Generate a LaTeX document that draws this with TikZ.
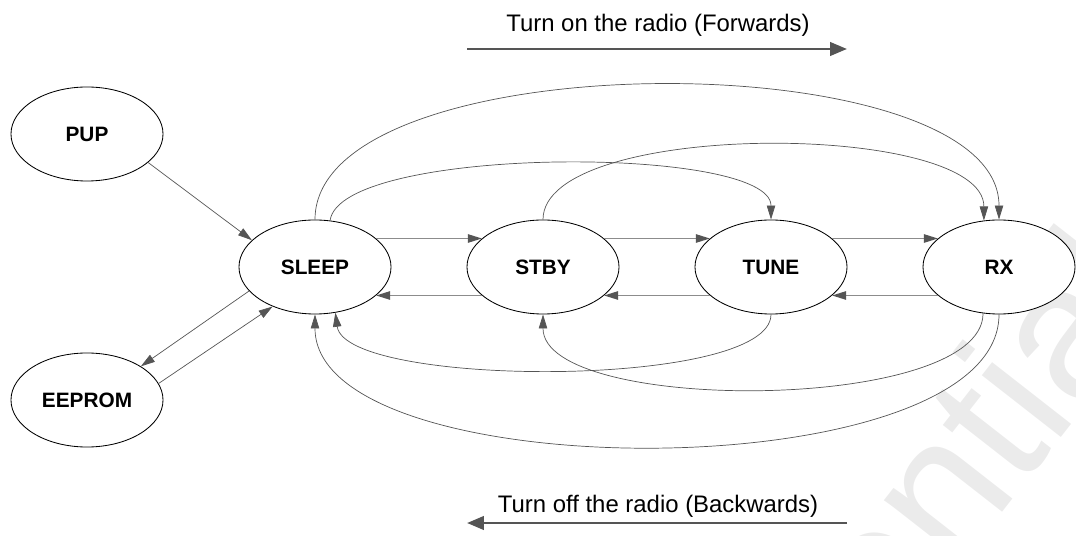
\documentclass[tikz,border=0pt]{standalone}
\usepackage{fontspec}
\setmainfont{Liberation Sans}
\usetikzlibrary{arrows.meta, shapes.geometric}
\definecolor{tipgray}{HTML}{555555}
\definecolor{flowgray}{HTML}{8C8C8C}
\definecolor{markgray}{HTML}{EBEBEB}

\begin{document}
\begin{tikzpicture}[x=0.025cm, y=-0.025cm,
    state/.style =
         {
             ellipse, draw=black, line width=0.6pt, fill=white,
             minimum width=3.8cm, minimum height=2.35cm, inner sep=0pt,
             font=\fontsize{14.8}{17}\selectfont\bfseries
         },
    flow/.style = {draw=flowgray, line width=1pt, -{Triangle[length=10pt, width=6pt, color=tipgray]}},
    link/.style = {draw=tipgray, line width=0.5pt, -{Triangle[length=10pt, width=6pt, color=tipgray]}},
    legend/.style = {draw=tipgray, line width=2pt, -{Triangle[length=12pt, width=9.5pt]}},
    caption/.style = {anchor=base, font=\fontsize{17}{20}\selectfont}]

      \useasboundingbox (0,0) rectangle (1076,536);
      \begin{scope}
        \clip (0,0) rectangle (1076,536);
        \node[rotate=52, anchor=base west, text=markgray, inner sep=0pt,
              font=\fontsize{135}{140}\selectfont] (wmark) at (553,1088) {Confidential};
      \end{scope}

      \node[state] (pup) at (87,134) {PUP};
      \node[state] (eeprom) at (87,400) {EEPROM};
      \node[state] (sleep) at (315,267) {SLEEP};
      \node[state] (stby) at (543,267) {STBY};
      \node[state] (tune) at (771,267) {TUNE};
      \node[state] (rx) at (999,267) {RX};

      \draw[link] (pup.-25) -- (sleep.157);
      \draw[link] (sleep.200) -- (eeprom.32);
      \draw[link] (eeprom.13) -- (sleep.223);

      \draw[flow] (sleep.25) -- (stby.155);
      \draw[flow] (stby.25) -- (tune.155);
      \draw[flow] (tune.25) -- (rx.155);
      \draw[flow] (rx.205) -- (tune.-25);
      \draw[flow] (tune.205) -- (stby.-25);
      \draw[flow] (stby.205) -- (sleep.-25);

      \draw[link] (sleep.north) .. controls +(0,-179) and +(0,-179) .. (rx.north);
      \draw[link] (sleep.72) .. controls +(10,-75) and +(0,-75) .. (tune.north);
      \draw[link] (stby.north) .. controls +(0,-100) and +(0,-100) .. (rx.108);

      \draw[link] (tune.south) .. controls +(0,75) and +(10,75) .. (sleep.-66);
      \draw[link] (rx.251) .. controls +(0,100) and +(0,100) .. (stby.south);
      \draw[link] (rx.south) .. controls +(0,176) and +(0,176) .. (sleep.south);

      \coordinate (fwdL) at (467,49);
      \coordinate (fwdR) at (847,49);
      \coordinate (bwdL) at (467,523);
      \coordinate (bwdR) at (847,523);
      \node[caption] (fwdtxt) at (658,32) {Turn on the radio (Forwards)};
      \node[caption] (bwdtxt) at (658,512) {Turn off the radio (Backwards)};
      \draw[legend] (fwdL) -- (fwdR);
      \draw[legend] (bwdR) -- (bwdL);
    \end{tikzpicture}
\end{document}
